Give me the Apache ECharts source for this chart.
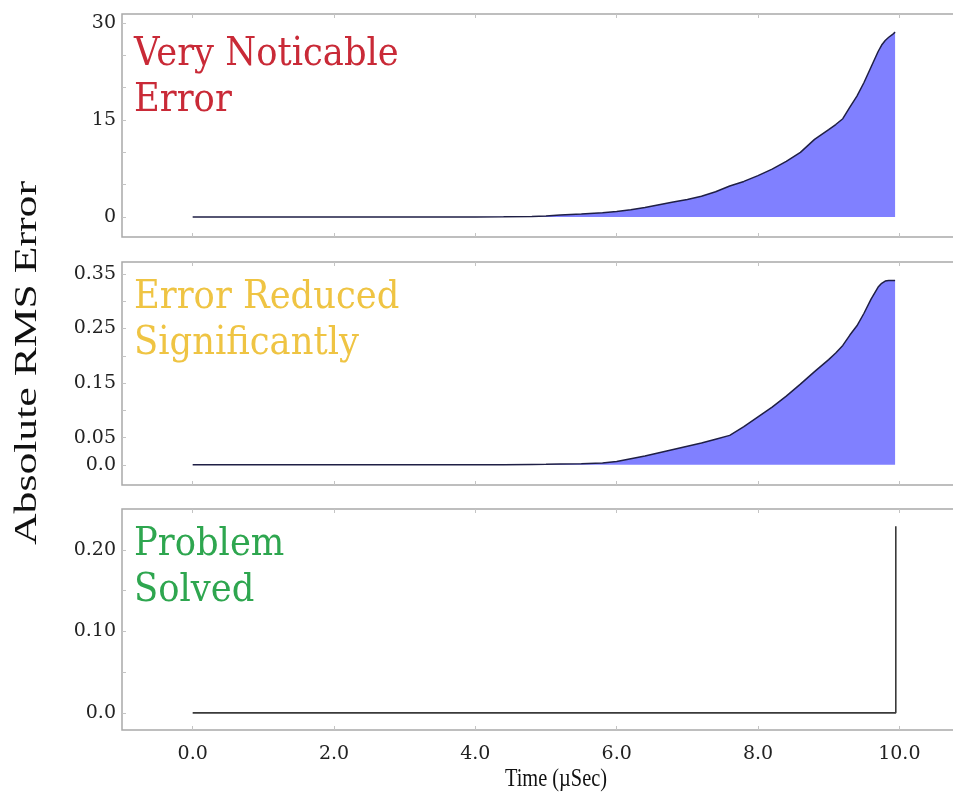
<!DOCTYPE html>
<html>
<head>
<meta charset="utf-8">
<script src="https://cdn.jsdelivr.net/npm/echarts@6.0.0/dist/echarts.min.js"></script>
<style>
  html, body { margin: 0; padding: 0; background: #ffffff; }
  #chart { width: 953px; height: 793px; }
</style>
</head>
<body>
<div id="chart"></div>
<script>
// Sample times (µs) shared by the two runs whose error grows over time
const timeUs = [0, 1, 2, 3, 4, 4.4, 4.8, 5.0, 5.2, 5.5, 5.8, 6.0, 6.2, 6.4, 6.6, 6.8, 7.0, 7.2, 7.4, 7.6, 7.8, 8.0, 8.2, 8.4, 8.6, 8.8, 9.0, 9.1, 9.2, 9.3, 9.4, 9.5, 9.6, 9.7, 9.75, 9.8, 9.85, 9.9, 9.94];
// Run 1: uncorrected
const errVeryNoticable = [0, 0, 0, 0, 0.01, 0.03, 0.08, 0.16, 0.3, 0.45, 0.65, 0.85, 1.1, 1.45, 1.9, 2.3, 2.7, 3.2, 3.9, 4.8, 5.5, 6.4, 7.4, 8.6, 10.0, 12.0, 13.5, 14.3, 15.2, 17.0, 18.7, 20.8, 23.2, 25.6, 26.6, 27.3, 27.8, 28.2, 28.6];
// Run 2: partial correction
const errReduced = [0, 0, 0, 0, 0, 0.0002, 0.0008, 0.001, 0.0015, 0.0022, 0.0035, 0.006, 0.011, 0.016, 0.022, 0.028, 0.034, 0.04, 0.047, 0.054, 0.07, 0.088, 0.106, 0.126, 0.148, 0.171, 0.193, 0.205, 0.219, 0.238, 0.255, 0.278, 0.304, 0.326, 0.333, 0.337, 0.338, 0.338, 0.338];
// Run 3: fixed – flat at zero with a single step at the very end
const timeSolved = [0, 9.95, 9.95];
const errSolved = [0, 0, 0.229];

// Tick positions and labels
const xTickValues = [0, 2, 4, 6, 8, 10];
const yTicksTop = [0, 5, 10, 15, 20, 25, 30];
const yLabelsTop = [0, 15, 30];
const yTicksMid = [0, 0.05, 0.1, 0.15, 0.2, 0.25, 0.3, 0.35];
const yLabelsMid = [0, 0.05, 0.15, 0.25, 0.35];
const yTicksBot = [0, 0.05, 0.1, 0.15, 0.2];
const yLabelsBot = [0, 0.1, 0.2];

// Panel captions
const notesTop = ['Very Noticable', 'Error'];
const notesMid = ['Error Reduced', 'Significantly'];
const notesBot = ['Problem', 'Solved'];
const yAxisTitle = 'Absolute RMS Error';
const xAxisTitle = 'Time (µSec)';

const pair = (xs, ys) => xs.map((x, i) => [x, ys[i]]);

// Panels run past the right edge of the canvas, so the right border is never drawn
const GRID_LEFT = 122, GRID_WIDTH = 848;
const grids = [
  { top: 14, height: 223 },
  { top: 262, height: 223 },
  { top: 509, height: 221 }
].map(g => Object.assign({
  left: GRID_LEFT, width: GRID_WIDTH, show: true, outerBoundsMode: 'none', containLabel: false,
  borderColor: '#a9a9a9', borderWidth: 1.5, backgroundColor: 'transparent'
}, g));

const tickStyle = { show: true, inside: true, length: 4, lineStyle: { color: '#c4c4c4', width: 1 } };
const labelFont = { fontFamily: '"DejaVu Serif", serif', fontSize: 19, color: '#222222' };

function xAxisFor(gridIndex, position, showLabels) {
  return {
    type: 'value', gridIndex, position, min: -1, max: 11,
    axisLine: { show: false, onZero: false }, splitLine: { show: false },
    axisTick: Object.assign({ customValues: xTickValues }, tickStyle),
    axisLabel: Object.assign({
      show: showLabels, customValues: xTickValues, margin: 15,
      formatter: v => v.toFixed(1)
    }, labelFont)
  };
}

function yAxisFor(gridIndex, min, max, ticks, labels, fmt) {
  return {
    type: 'value', gridIndex, min, max, position: 'left',
    axisLine: { show: false, onZero: false }, splitLine: { show: false },
    axisTick: Object.assign({ customValues: ticks }, tickStyle),
    axisLabel: Object.assign({ customValues: labels, margin: 6, formatter: fmt }, labelFont)
  };
}

const fmtSmall = v => (v === 0 ? '0.0' : v.toFixed(2));

const xAxes = [
  xAxisFor(0, 'bottom', false), xAxisFor(1, 'bottom', false), xAxisFor(2, 'bottom', true),
  xAxisFor(0, 'top', false), xAxisFor(1, 'top', false), xAxisFor(2, 'top', false)
];
const yAxes = [
  yAxisFor(0, -3.1, 31.4, yTicksTop, yLabelsTop, v => String(v)),
  yAxisFor(1, -0.037, 0.372, yTicksMid, yLabelsMid, fmtSmall),
  yAxisFor(2, -0.021, 0.25, yTicksBot, yLabelsBot, fmtSmall)
];

const curveLine = { color: '#1f1f45', width: 1.5 };
const fillArea = { color: '#8080ff', opacity: 1 };

const series = [
  {
    type: 'line', xAxisIndex: 0, yAxisIndex: 0, data: pair(timeUs, errVeryNoticable),
    showSymbol: false, symbol: 'none', smooth: false,
    lineStyle: curveLine, areaStyle: fillArea, silent: true
  },
  {
    type: 'line', xAxisIndex: 1, yAxisIndex: 1, data: pair(timeUs, errReduced),
    showSymbol: false, symbol: 'none', smooth: false,
    lineStyle: curveLine, areaStyle: fillArea, silent: true
  },
  {
    type: 'line', xAxisIndex: 2, yAxisIndex: 2, data: pair(timeSolved, errSolved),
    showSymbol: false, symbol: 'none',
    lineStyle: { color: '#3a3a3a', width: 1.6 }, silent: true
  }
];

// Text helpers
function measure(text, font) {
  const ctx = document.createElement('canvas').getContext('2d');
  ctx.font = font;
  return ctx.measureText(text).width;
}

const NOTE_FONT = '35px "DejaVu Serif", serif';
function noteLines(lines, color, firstMidY) {
  return lines.map((t, i) => ({
    type: 'text', x: 134, y: firstMidY + i * 46, scaleX: 1.01, scaleY: 1.12, z: 100,
    style: {
      text: t, font: NOTE_FONT, fill: color,
      textAlign: 'left', textVerticalAlign: 'middle', align: 'left', verticalAlign: 'middle'
    }
  }));
}

const Y_TITLE_FONT = '32px "Liberation Serif", serif';
const yTitleStretch = 364 / measure(yAxisTitle, Y_TITLE_FONT);
const X_TITLE_FONT = '21px "Liberation Serif", serif';

const graphics = [].concat(
  noteLines(notesTop, '#c92a37', 55),
  noteLines(notesMid, '#efc443', 298),
  noteLines(notesBot, '#2ea64f', 545),
  [{
    type: 'text', x: 28, y: 363, rotation: Math.PI / 2, scaleX: yTitleStretch, scaleY: 1, z: 100,
    style: {
      text: yAxisTitle, font: Y_TITLE_FONT, fill: '#111111',
      textAlign: 'center', textVerticalAlign: 'middle', align: 'center', verticalAlign: 'middle'
    }
  }, {
    type: 'text', x: 556, y: 780, scaleX: 0.97, scaleY: 1.15, z: 100,
    style: {
      text: xAxisTitle, font: X_TITLE_FONT, fill: '#111111',
      textAlign: 'center', textVerticalAlign: 'middle', align: 'center', verticalAlign: 'middle'
    }
  }]
);

const chart = echarts.init(document.getElementById('chart'), null, { renderer: 'canvas' });
chart.setOption({
  animation: false,
  backgroundColor: '#ffffff',
  grid: grids,
  xAxis: xAxes,
  yAxis: yAxes,
  series,
  graphic: graphics
});
</script>
</body>
</html>
